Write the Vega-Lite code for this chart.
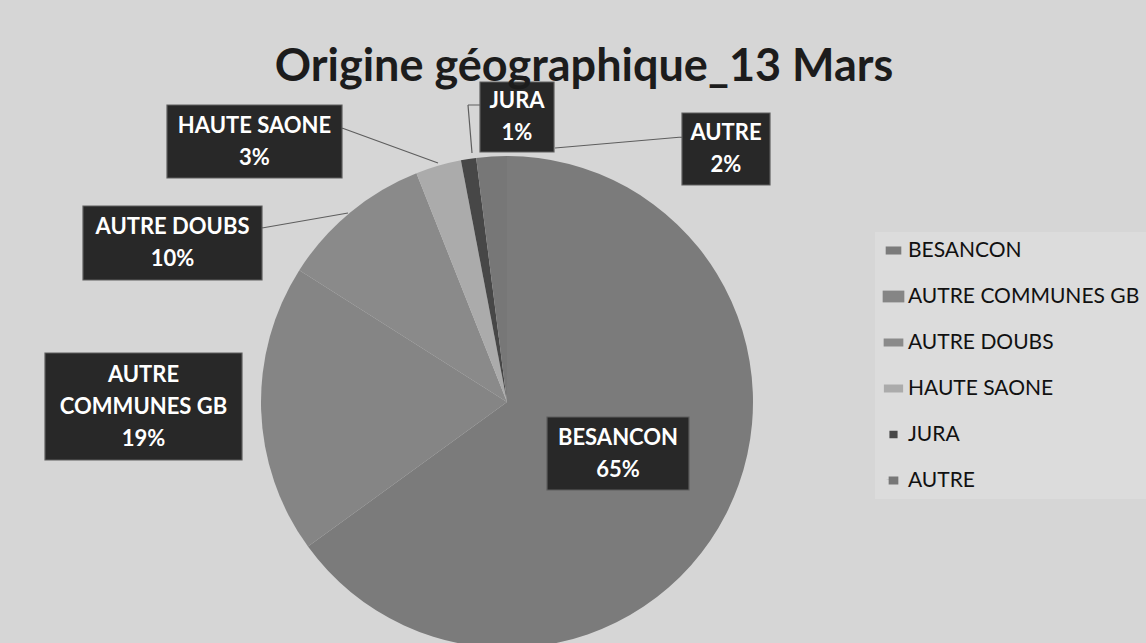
{
  "$schema": "https://vega.github.io/schema/vega-lite/v6.json",
  "autosize": {"type": "none"},
  "width": 1014,
  "height": 482,
  "padding": {"left": 0, "top": 161, "right": 132, "bottom": 0},
  "background": "#d6d6d6",
  "view": {"stroke": null},
  "title": {
    "text": "Origine géographique_13 Mars",
    "font": "Lato",
    "fontSize": 45,
    "fontWeight": "bold",
    "color": "#1c1c1c",
    "anchor": "middle",
    "frame": "group",
    "dx": 77,
    "baseline": "alphabetic",
    "offset": -46
  },
  "data": {
    "values": [
      {"cat": "BESANCON", "pct": 65, "n": 1, "label": "BESANCON\n65%"},
      {"cat": "AUTRE COMMUNES GB", "pct": 19, "n": 2, "label": "AUTRE\nCOMMUNES GB\n19%"},
      {"cat": "AUTRE DOUBS", "pct": 10, "n": 3, "label": "AUTRE DOUBS\n10%"},
      {"cat": "HAUTE SAONE", "pct": 3, "n": 4, "label": "HAUTE SAONE\n3%"},
      {"cat": "JURA", "pct": 1, "n": 5, "label": "JURA\n1%"},
      {"cat": "AUTRE", "pct": 2, "n": 6, "label": "AUTRE\n2%"}
    ]
  },
  "resolve": {"scale": {"y": "independent"}},
  "layer": [
    {
      "mark": {"type": "arc", "radius": 246, "stroke": null},
      "encoding": {
        "theta": {"field": "pct", "type": "quantitative", "stack": true},
        "order": {"field": "n", "type": "quantitative"},
        "color": {
          "field": "cat",
          "type": "nominal",
          "scale": {
            "domain": ["BESANCON", "AUTRE COMMUNES GB", "AUTRE DOUBS", "HAUTE SAONE", "JURA", "AUTRE"],
            "range": ["#7b7b7b", "#858585", "#8a8a8a", "#ababab", "#474747", "#777777"]
          },
          "legend": {
            "title": null,
            "orient": "none",
            "legendX": 875,
            "legendY": 71,
            "fillColor": "#dcdcdc",
            "padding": 8,
            "symbolType": "square",
            "symbolSize": 121,
            "symbolStrokeWidth": 0,
            "labelFont": "Lato",
            "labelFontSize": 21,
            "labelColor": "#111111",
            "labelOffset": 4,
            "labelLimit": 400,
            "rowPadding": 24
          }
        }
      }
    },
    {
      "mark": {"type": "point", "filled": true, "size": 10000, "fill": "#282828", "stroke": "#5e5e5e", "strokeWidth": 1.2, "opacity": 1, "fillOpacity": 1},
      "encoding": {
        "x": {"field": "pct", "type": "quantitative", "axis": null, "scale": {"domain": [1, 2, 3, 10, 19, 65], "range": [517, 726, 254.5, 172.5, 143.5, 618], "zero": false, "nice": false}},
        "y": {"field": "pct", "type": "quantitative", "axis": null, "scale": {"domain": [1, 2, 3, 10, 19, 65], "range": [-44, -12, -19.5, 82, 245.5, 292.5], "zero": false, "nice": false}},
        "shape": {
          "field": "cat",
          "type": "nominal",
          "legend": null,
          "scale": {
            "domain": ["BESANCON", "AUTRE COMMUNES GB", "AUTRE DOUBS", "HAUTE SAONE", "JURA", "AUTRE"],
            "range": [
              "M-1.42,-0.73H1.42V0.73H-1.42Z",
              "M-1.97,-1.07H1.97V1.07H-1.97Z",
              "M-1.79,-0.74H1.79V0.74H-1.79ZM1.79,-0.3L3.51,-0.6",
              "M-1.75,-0.73H1.75V0.73H-1.75ZM1.75,-0.27L3.67,0.43",
              "M-0.74,-0.70H0.74V0.70H-0.74ZM-0.74,-0.24L-0.98,-0.24M-0.98,-0.24L-0.90,0.72",
              "M-0.88,-0.72H0.88V0.72H-0.88ZM-0.88,-0.24L-3.42,-0.02"
            ]
          }
        }
      }
    },
    {
      "mark": {"type": "text", "font": "Lato", "fontWeight": "bold", "fontSize": 22, "fill": "#ffffff", "lineBreak": "\n", "lineHeight": 32, "align": "center", "baseline": "middle"},
      "encoding": {
        "x": {"field": "pct", "type": "quantitative", "axis": null},
        "y": {"field": "pct", "type": "quantitative", "axis": null, "scale": {"domain": [1, 2, 3, 10, 19, 65], "range": [-60, -28, -35.5, 66, 213.5, 276.5], "zero": false, "nice": false}},
        "text": {"field": "label", "type": "nominal"}
      }
    }
  ]
}
